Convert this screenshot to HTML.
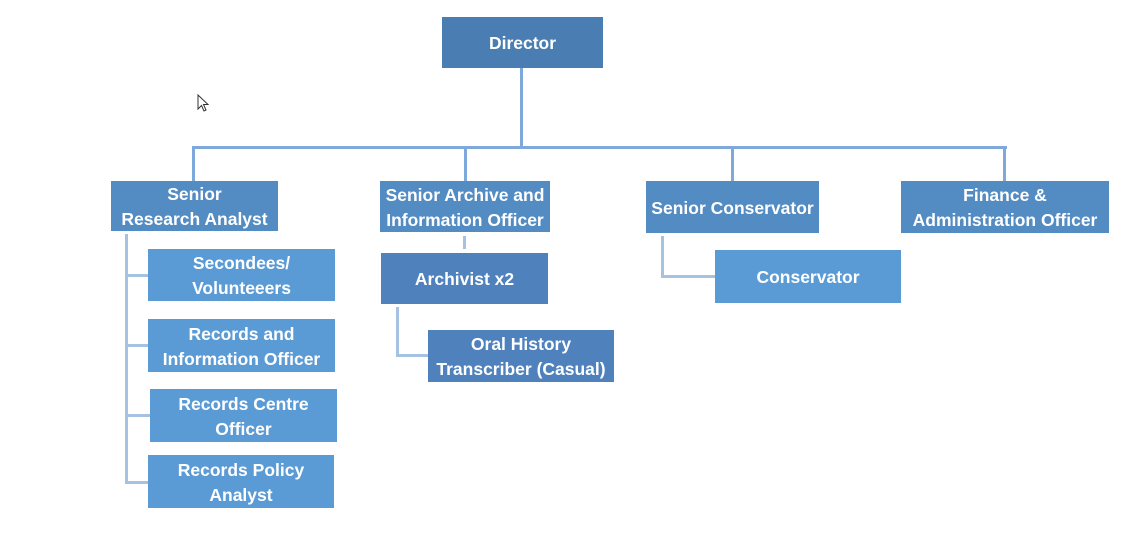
<!DOCTYPE html>
<html><head><style>
body{margin:0;width:1139px;height:546px;background:#fff;position:relative;overflow:hidden;font-family:"Liberation Sans",sans-serif}
.b{position:absolute;color:#fff;font-weight:bold;font-size:17.5px;line-height:25px;display:flex;align-items:center;justify-content:center;text-align:center;padding-top:2px;box-sizing:border-box}
.l{position:absolute;background:#7ea9da}
.m{position:absolute;background:#a6c2e3}
</style></head><body>
<div class="l" style="left:520px;top:68px;width:3px;height:80px"></div>
<div class="l" style="left:192px;top:146px;width:815px;height:3px"></div>
<div class="l" style="left:192px;top:146px;width:3px;height:35px"></div>
<div class="l" style="left:464px;top:146px;width:3px;height:35px"></div>
<div class="l" style="left:731px;top:146px;width:3px;height:35px"></div>
<div class="l" style="left:1003px;top:146px;width:3px;height:35px"></div>
<div class="m" style="left:125px;top:234px;width:3px;height:250px"></div>
<div class="m" style="left:125px;top:274px;width:23px;height:3px"></div>
<div class="m" style="left:125px;top:344px;width:23px;height:3px"></div>
<div class="m" style="left:125px;top:414px;width:25px;height:3px"></div>
<div class="m" style="left:125px;top:481px;width:23px;height:3px"></div>
<div class="m" style="left:463px;top:236px;width:3px;height:13px"></div>
<div class="m" style="left:396px;top:307px;width:3px;height:50px"></div>
<div class="m" style="left:396px;top:354px;width:32px;height:3px"></div>
<div class="m" style="left:661px;top:236px;width:3px;height:41px"></div>
<div class="m" style="left:661px;top:275px;width:54px;height:3px"></div>
<div class="b" style="left:442px;top:17px;width:161px;height:51px;background:#4a7eb3">Director</div>
<div class="b" style="left:111px;top:181px;width:167px;height:50px;background:#538bc3">Senior<br>Research Analyst</div>
<div class="b" style="left:380px;top:181px;width:170px;height:51px;background:#538bc3">Senior Archive and<br>Information Officer</div>
<div class="b" style="left:646px;top:181px;width:173px;height:52px;background:#538bc3">Senior Conservator</div>
<div class="b" style="left:901px;top:181px;width:208px;height:52px;background:#538bc3">Finance &amp;<br>Administration Officer</div>
<div class="b" style="left:148px;top:249px;width:187px;height:52px;background:#5b9bd5">Secondees/<br>Volunteeers</div>
<div class="b" style="left:148px;top:319px;width:187px;height:53px;background:#5b9bd5">Records and<br>Information Officer</div>
<div class="b" style="left:150px;top:389px;width:187px;height:53px;background:#5b9bd5">Records Centre<br>Officer</div>
<div class="b" style="left:148px;top:455px;width:186px;height:53px;background:#5b9bd5">Records Policy<br>Analyst</div>
<div class="b" style="left:381px;top:253px;width:167px;height:51px;background:#4f81bd">Archivist x2</div>
<div class="b" style="left:428px;top:330px;width:186px;height:52px;background:#4f81bd">Oral History<br>Transcriber (Casual)</div>
<div class="b" style="left:715px;top:250px;width:186px;height:53px;background:#5b9bd5">Conservator</div>
<svg style="position:absolute;left:197px;top:94px" width="14" height="20"><path d="M1 1 L1 15 L4.5 11.5 L7 17 L9 16 L6.5 10.5 L11 10.5 Z" fill="#fff" stroke="#333" stroke-width="1"/></svg>
</body></html>
